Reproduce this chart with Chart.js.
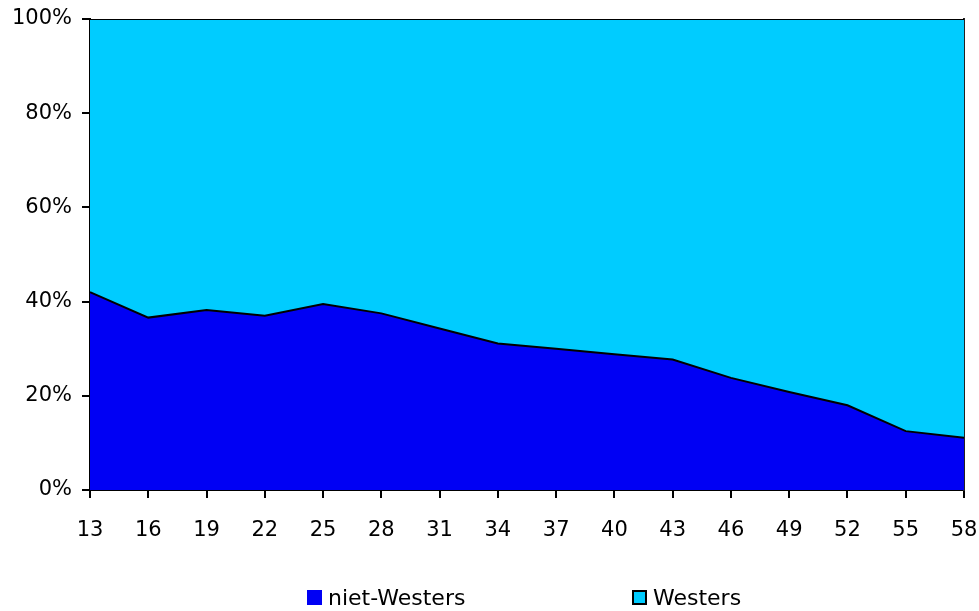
<!DOCTYPE html>
<html><head><meta charset="utf-8">
<script src="https://cdn.jsdelivr.net/npm/chart.js@4"></script>
<style>
html,body{margin:0;padding:0;background:#fff;}
#wrap{position:relative;width:979px;height:611px;}
canvas{position:absolute;left:0;top:0;}
.lg{position:absolute;top:585px;font:22px "DejaVu Sans",sans-serif;color:#000;display:flex;align-items:center;white-space:nowrap;}
.bx{display:inline-block;width:15px;height:15px;margin-right:6px;box-sizing:border-box;}
</style></head>
<body><div id="wrap"><canvas id="c" width="979" height="611"></canvas>
<div class="lg" style="left:307px"><span class="bx" style="background:#0000f4"></span>niet-Westers</div>
<div class="lg" style="left:632px"><span class="bx" style="background:#00ccff;border:2px solid #000"></span>Westers</div>
</div>
<script>
const categories = ['13','16','19','22','25','28','31','34','37','40','43','46','49','52','55','58'];
const nietWesters = [42.0,36.6,38.2,37.0,39.5,37.5,34.3,31.1,30.0,28.8,27.7,23.8,20.8,18.0,12.5,11.1];
const westers = nietWesters.map(v => +(100 - v).toFixed(1));
const yTicks = [0,20,40,60,80,100];

const font = {family:'"DejaVu Sans", sans-serif', size:21};
new Chart(document.getElementById('c'), {
  type:'line',
  data:{labels:categories, datasets:[
    {label:'niet-Westers', data:nietWesters, fill:'origin', backgroundColor:'#0000f4', borderColor:'#000', borderWidth:2, pointRadius:0, tension:0},
    {label:'Westers', data:westers, fill:'-1', backgroundColor:'#00ccff', borderColor:'#000', borderWidth:2, pointRadius:0, tension:0}
  ]},
  options:{
    responsive:false, animation:false,
    layout:{padding:{left:0,right:15,top:19,bottom:71}},
    plugins:{legend:{display:false}, tooltip:{enabled:false}},
    scales:{
      x:{offset:false, grid:{display:true, drawOnChartArea:false, tickLength:8, color:'#000', lineWidth:2},
         border:{color:'#000', width:2},
         ticks:{color:'#000', font:font, padding:20, maxRotation:0, autoSkip:false},
         afterFit:s=>{s.height=50; s.paddingLeft=0; s.paddingRight=0;}},
      y:{stacked:true, min:0, max:100, afterBuildTicks:s=>{s.ticks=yTicks.map(v=>({value:v}));},
         grid:{display:true, drawOnChartArea:false, tickLength:8, color:'#000', lineWidth:2},
         border:{color:'#000', width:2},
         ticks:{color:'#000', font:font, padding:10, callback:v=>v+'%'},
         afterFit:s=>{s.width=90; s.paddingTop=0; s.paddingBottom=0;}},
      yR:{position:'right', min:0, max:100, grid:{display:false}, ticks:{display:false},
         border:{display:true, color:'#222', width:2},
         afterFit:s=>{s.width=0; s.paddingTop=0; s.paddingBottom=0;}}
    }
  }
});
</script></body></html>
